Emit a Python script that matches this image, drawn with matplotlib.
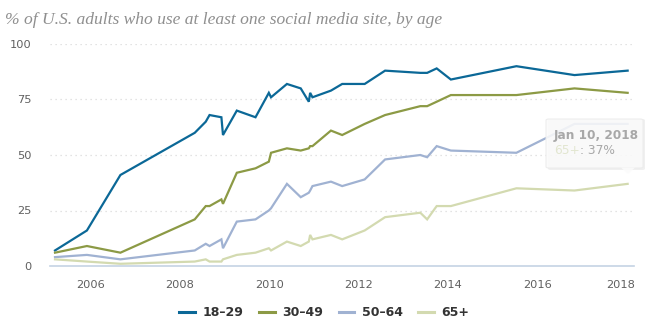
import matplotlib
matplotlib.use("Agg")
import matplotlib.pyplot as plt
from matplotlib.patches import FancyBboxPatch, Polygon
from matplotlib.transforms import ScaledTranslation
import pandas as pd

# survey dates and share of adults using social media (%)
dates = ["2005-03-15", "2005-12-01", "2006-09-01", "2008-05-01", "2008-07-30",
         "2008-08-30", "2008-12-05", "2008-12-18", "2009-04-10", "2009-09-10",
         "2009-12-28", "2010-01-15", "2010-05-25", "2010-09-15", "2010-11-20",
         "2010-12-01", "2010-12-20", "2011-05-20", "2011-08-20", "2012-02-20",
         "2012-08-05", "2013-05-20", "2013-07-15", "2013-10-01", "2014-01-25",
         "2015-07-15", "2016-11-01", "2018-01-10"]

age_18_29 = [7, 16, 41, 60, 65, 68, 67, 59, 70, 67, 78, 76, 82, 80, 74, 78, 76,
             79, 82, 82, 88, 87, 87, 89, 84, 90, 86, 88]
age_30_49 = [6, 9, 6, 21, 27, 27, 30, 28, 42, 44, 47, 51, 53, 52, 53, 54, 54,
             61, 59, 64, 68, 72, 72, 74, 77, 77, 80, 78]
age_50_64 = [4, 5, 3, 7, 10, 9, 12, 8, 20, 21, 25, 26, 37, 31, 33, 34, 36,
             38, 36, 39, 48, 50, 49, 54, 52, 51, 64, 64]
age_65_up = [3, 2, 1, 2, 3, 2, 2, 3, 5, 6, 8, 7, 11, 9, 11, 14, 12,
             14, 12, 16, 22, 24, 21, 27, 27, 35, 34, 37]

labels = ["18–29", "30–49", "50–64", "65+"]
colors = ["#0b6897", "#8c9a45", "#a0b2d2", "#d3dab0"]
y_ticks = [0, 25, 50, 75, 100]
x_years = [2006, 2008, 2010, 2012, 2014, 2016, 2018]

W, H = 666, 330
fig = plt.figure(figsize=(W / 100, H / 100), dpi=100)
ax = fig.add_axes([50 / W, 1 - 266 / H, 584 / W, 222 / H])

x = pd.to_datetime(dates)
series = [age_18_29, age_30_49, age_50_64, age_65_up]
for vals, lab, col in zip(series, labels, colors):
    ax.plot(x, vals, color=col, lw=1.6, label=lab, clip_on=False,
            solid_joinstyle="miter", zorder=3)

ax.set_xlim(pd.Timestamp("2005-02-02"), pd.Timestamp("2018-03-03"))
ax.set_ylim(0, 100)

# dotted horizontal grid, light baseline
for v in y_ticks[1:]:
    ax.axhline(v, color="#dadada", lw=0.9, ls=(0, (1, 3)), zorder=1)
ax.axhline(0, color="#c5d3e4", lw=1.2, zorder=2, clip_on=False)
for s in ax.spines.values():
    s.set_visible(False)

ax.set_yticks(y_ticks)
ax.set_yticklabels([str(v) for v in y_ticks])
ax.set_xticks([pd.Timestamp(f"{yr}-01-01") for yr in x_years])
ax.set_xticklabels([str(yr) for yr in x_years])
ax.tick_params(axis="both", length=0, labelsize=8.2, labelcolor="#606060")
ax.tick_params(axis="y", pad=13)
ax.tick_params(axis="x", pad=10)
# keep the last year label inside the plot edge
last = ax.get_xticklabels()[-1]
last.set_transform(last.get_transform() + ScaledTranslation(-0.063, 0, fig.dpi_scale_trans))

fig.text(5 / W, 1 - 20 / H, "% of U.S. adults who use at least one social media site, by age",
         family="Liberation Serif", style="italic", fontsize=12.6, color="#8f8f8f",
         va="center", ha="left")

# legend
leg = fig.legend(ncol=4, loc="center", bbox_to_anchor=(0.487, 1 - 313 / H),
                 frameon=False, handlelength=1.25, handletextpad=0.6,
                 columnspacing=1.25, prop={"size": 9, "weight": "bold"})
for t in leg.get_texts():
    t.set_color("#333333")
for h in leg.get_lines():
    h.set_linewidth(2.2)

# hover tooltip on the last 65+ point
def fx(px):
    return px / W

def fy(py):
    return 1 - py / H

shadow = FancyBboxPatch((fx(548), fy(170)), fx(97), 51 / H, boxstyle="round,pad=0,rounding_size=0.004",
                        transform=fig.transFigure, facecolor="#000000", alpha=0.06,
                        edgecolor="none", zorder=5)
box = FancyBboxPatch((fx(546), fy(168)), fx(97), 49 / H, boxstyle="round,pad=0,rounding_size=0.004",
                     transform=fig.transFigure, facecolor="#fbfbfb", alpha=0.88,
                     edgecolor="#ebebeb", lw=0.8, zorder=6)
tip = Polygon([(fx(621), fy(167.5)), (fx(635), fy(167.5)), (fx(628), fy(174))],
              closed=True, transform=fig.transFigure, facecolor="#fbfbfb",
              alpha=0.88, edgecolor="none", zorder=6)
fig.add_artist(shadow)
fig.add_artist(box)
fig.add_artist(tip)
fig.text(fx(554), fy(136), "Jan 10, 2018", fontsize=8.7, weight="bold",
         color="#a8a8a8", va="center", ha="left", zorder=7)
t1 = fig.text(fx(554), fy(151), "65+", fontsize=8.8, color="#e2e6d0",
              va="center", ha="left", zorder=7)
fig.canvas.draw()
bb = t1.get_window_extent()
fig.text(bb.x1 / W, fy(151), ": 37%", fontsize=8.8, color="#a8a8a8",
         va="center", ha="left", zorder=7)

fig.savefig("out.png", dpi=100)
